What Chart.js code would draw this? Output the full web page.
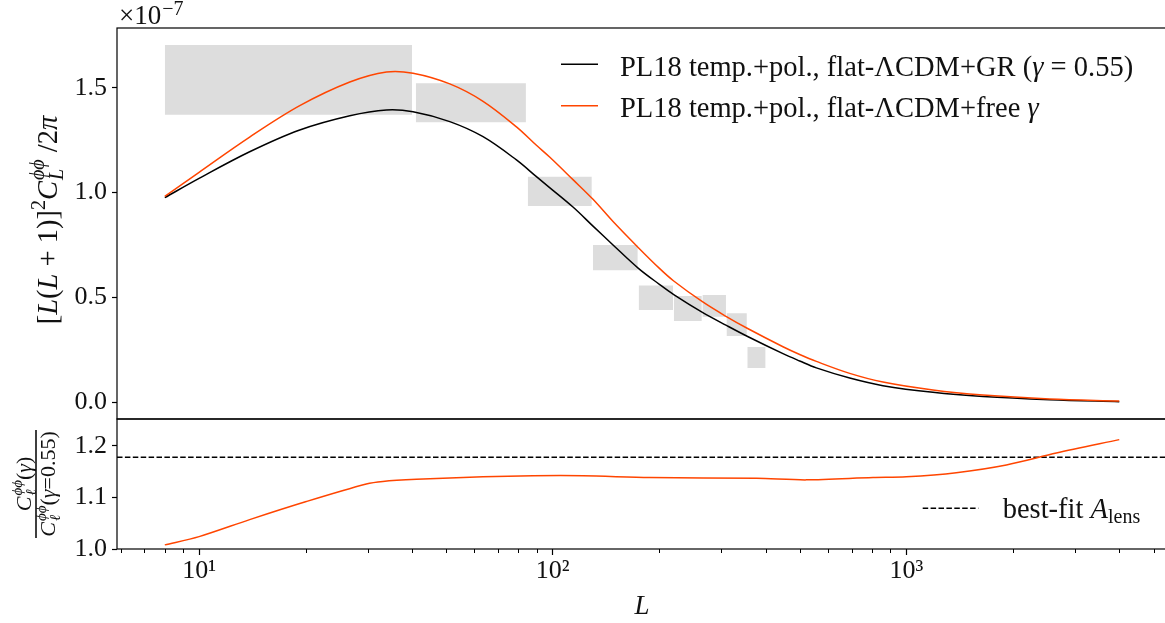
<!DOCTYPE html>
<html>
<head>
<meta charset="utf-8">
<script src="https://cdn.jsdelivr.net/npm/chart.js@4.4.0/dist/chart.umd.min.js"></script>
<style>
html, body { margin: 0; padding: 0; background: #fff; overflow: hidden; }
#top { position: absolute; left: 0; top: 0; }
#bottom { position: absolute; left: 0; top: 380px; }
</style>
</head>
<body>
<canvas id="top" width="1168" height="420"></canvas>
<canvas id="bottom" width="1168" height="243"></canvas>
<script>
// x range of both panels (log L)
const xMin = 5.86;
const xMax = 5458;
const xTicks = [10, 100, 1000];

// multipoles where the two model curves were read
const ell = [8, 10, 13.9, 19.26, 26.68, 33.87, 40.27, 51.16, 63.53, 78.97, 89.94, 98, 114.1, 130, 148.1, 174.7, 200.7, 219.9, 265, 309.8, 355.8, 447.8, 499.3, 556.6, 691.6, 858.6, 1189, 1647, 2542, 4000];

// lensing power, GR (gamma = 0.55), units of 1e-7
const clGR = [0.976, 1.068, 1.195, 1.299, 1.367, 1.3945, 1.386, 1.339, 1.267, 1.156, 1.076, 1.024, 0.931, 0.840, 0.750, 0.6385, 0.561, 0.513, 0.428, 0.366, 0.313, 0.231, 0.196, 0.163, 0.1145, 0.0783, 0.0463, 0.0267, 0.0115, 0.0019];

// lensing power, free gamma
const clFree = [0.982, 1.097, 1.265, 1.415, 1.528, 1.576, 1.570, 1.519, 1.436, 1.314, 1.226, 1.170, 1.062, 0.968, 0.862, 0.737, 0.637, 0.578, 0.479, 0.408, 0.351, 0.264, 0.227, 0.194, 0.137, 0.0955, 0.0573, 0.0334, 0.0148, 0.0048];

// PL18 bandpowers (grey boxes)
const binLo = [8, 41, 85, 130, 175, 220, 265, 310, 355];
const binHi = [40, 84, 129, 174, 219, 264, 309, 354, 400];
const bandLo = [1.372, 1.336, 0.936, 0.629, 0.439, 0.387, 0.407, 0.315, 0.162];
const bandHi = [1.705, 1.522, 1.076, 0.750, 0.556, 0.506, 0.511, 0.424, 0.263];

// ratio panel
const ellRatio = [8, 10, 13.9, 20.1, 29.7, 33.1, 41.2, 63.5, 88, 121.8, 188, 377, 521, 805, 1000, 1384, 1918, 2655, 4000];
const ratio = [1.008, 1.024, 1.057, 1.092, 1.126, 1.131, 1.135, 1.140, 1.142, 1.142, 1.1385, 1.137, 1.134, 1.1385, 1.140, 1.148, 1.163, 1.186, 1.212];
const aLens = 1.178;

const yTicksTop = [0, 0.5, 1.0, 1.5];
const yTicksBottom = [1.0, 1.1, 1.2];

const FAMILY = '"Liberation Serif", "DejaVu Serif", serif';
const ORANGE = '#ff4500';
const TEXT = '#111';

const toPoints = (xs, ys) => xs.map((x, i) => ({ x: x, y: ys[i] }));
const font = (size, italic) => (italic ? 'italic ' : '') + size + 'px ' + FAMILY;

function runWidth(ctx, r) {
    if (r.sup !== undefined || r.sub !== undefined) {
        ctx.font = font(r.s, true);
        return Math.max(ctx.measureText(r.sup || '').width, ctx.measureText(r.sub || '').width);
    }
    ctx.font = font(r.s, r.i);
    return ctx.measureText(r.t).width;
}

function runsWidth(ctx, runs) {
    return runs.reduce((w, r) => w + runWidth(ctx, r) + (r.gap || 0), 0);
}

// draws text runs left to right from (x, y) on the alphabetic baseline
function drawRuns(ctx, runs, x, y) {
    ctx.textBaseline = 'alphabetic';
    ctx.textAlign = 'left';
    for (const r of runs) {
        const w = runWidth(ctx, r);
        if (r.sup !== undefined || r.sub !== undefined) {
            ctx.font = font(r.s, true);
            if (r.sup) ctx.fillText(r.sup, x, y + r.up);
            if (r.sub) ctx.fillText(r.sub, x, y + r.down);
        } else {
            ctx.font = font(r.s, r.i);
            ctx.fillText(r.t, x, y + (r.dy || 0));
        }
        x += w + (r.gap || 0);
    }
    return x;
}

const frame = {
    id: 'frame',
    afterDraw(chart) {
        const { ctx, chartArea: a } = chart;
        ctx.save();
        ctx.strokeStyle = '#000';
        ctx.lineWidth = 1.2;
        ctx.strokeRect(a.left, a.top, a.right - a.left, a.bottom - a.top);
        ctx.restore();
    }
};

const minorTicks = {
    id: 'minorTicks',
    afterDraw(chart) {
        const x = chart.scales.x, ctx = chart.ctx, y0 = chart.chartArea.bottom;
        ctx.save();
        ctx.strokeStyle = '#000';
        ctx.lineWidth = 1;
        for (let d = 0; d < 4; d++) {
            for (let k = 2; k < 10; k++) {
                const v = k * Math.pow(10, d);
                if (v < xMin || v > xMax) continue;
                const px = Math.round(x.getPixelForValue(v)) + 0.5;
                ctx.beginPath();
                ctx.moveTo(px, y0);
                ctx.lineTo(px, y0 + 4);
                ctx.stroke();
            }
        }
        ctx.restore();
    }
};

const topText = {
    id: 'topText',
    afterDraw(chart) {
        const ctx = chart.ctx;
        ctx.save();
        ctx.fillStyle = TEXT;

        // offset text
        drawRuns(ctx, [{ t: '×10', s: 27, gap: 1 }, { t: '−7', s: 20, dy: -9 }], 119, 24);

        // y label
        ctx.save();
        ctx.translate(57, 220);
        ctx.rotate(-Math.PI / 2);
        const S = 28.5, s = 20;
        const ylab = [
            { t: '[', s: S }, { t: 'L', s: S, i: true }, { t: '(', s: S }, { t: 'L', s: S, i: true },
            { t: ' + 1)]', s: S }, { t: '2', s: s, dy: -12 },
            { t: 'C', s: S, i: true, gap: 1 }, { sup: 'ϕϕ', sub: 'L', s: s, up: -13, down: 6 },
            { t: ' /2', s: S }, { t: 'π', s: S, i: true }
        ];
        drawRuns(ctx, ylab, -runsWidth(ctx, ylab) / 2, 0);
        ctx.restore();

        // legend
        const rows = [
            { color: '#000', y: 64.3, runs: [{ t: 'PL18 temp.+pol., flat-ΛCDM+GR (', s: 28.5 }, { t: 'γ', s: 28.5, i: true }, { t: ' = 0.55)', s: 28.5 }] },
            { color: ORANGE, y: 105.7, runs: [{ t: 'PL18 temp.+pol., flat-ΛCDM+free ', s: 28.5 }, { t: 'γ', s: 28.5, i: true }] }
        ];
        for (const row of rows) {
            ctx.strokeStyle = row.color;
            ctx.lineWidth = 1.5;
            ctx.beginPath();
            ctx.moveTo(561, row.y);
            ctx.lineTo(598, row.y);
            ctx.stroke();
            drawRuns(ctx, row.runs, 620, row.y + 11.7);
        }
        ctx.restore();
    }
};

const bottomText = {
    id: 'bottomText',
    afterDraw(chart) {
        const ctx = chart.ctx;
        ctx.save();
        ctx.fillStyle = TEXT;

        // fraction label
        ctx.save();
        ctx.translate(36, 104);
        ctx.rotate(-Math.PI / 2);
        const B = 22, s = 15;
        const num = [{ t: 'C', s: B, i: true, gap: 1 }, { sup: 'ϕϕ', sub: 'ℓ', s: s, up: -9, down: 5 }, { t: '(', s: B }, { t: 'γ', s: B, i: true }, { t: ')', s: B }];
        const den = [{ t: 'C', s: B, i: true, gap: 1 }, { sup: 'ϕϕ', sub: 'ℓ', s: s, up: -9, down: 5 }, { t: '(', s: B }, { t: 'γ', s: B, i: true }, { t: '=0.55)', s: B }];
        drawRuns(ctx, num, -runsWidth(ctx, num) / 2, -5);
        drawRuns(ctx, den, -runsWidth(ctx, den) / 2, 19);
        ctx.fillRect(-54, -0.8, 108, 1.6);
        ctx.restore();

        // legend
        ctx.strokeStyle = '#000';
        ctx.lineWidth = 1.5;
        ctx.setLineDash([5.5, 2.4]);
        ctx.beginPath();
        ctx.moveTo(922.7, 128.3);
        ctx.lineTo(978.3, 128.3);
        ctx.stroke();
        ctx.setLineDash([]);
        drawRuns(ctx, [{ t: 'best-fit ', s: 28.5 }, { t: 'A', s: 28.5, i: true }, { t: 'lens', s: 20, dy: 5 }], 1002.7, 138.3);
        ctx.restore();
    }
};

const tickFont = { family: FAMILY, size: 26 };
const sup = { 1: '¹', 2: '²', 3: '³' };

function yAxis(min, max, ticks) {
    return {
        min: min,
        max: max,
        afterBuildTicks: sc => { sc.ticks = ticks.map(v => ({ value: v })); },
        afterFit: sc => { sc.width = 117; sc.paddingTop = 0; sc.paddingBottom = 0; },
        grid: { drawOnChartArea: false, tickLength: 5, tickColor: '#000', tickWidth: 1.2 },
        border: { display: false },
        ticks: { font: tickFont, color: TEXT, padding: 5, callback: v => v.toFixed(1) }
    };
}

const boxSets = binLo.map((lo, i) => ({
    data: [{ x: lo, y: bandHi[i] }, { x: binHi[i], y: bandHi[i] }],
    fill: { value: bandLo[i] },
    backgroundColor: '#dddddd',
    borderWidth: 0,
    pointRadius: 0,
    tension: 0
}));

new Chart(document.getElementById('top'), {
    type: 'line',
    data: {
        datasets: [
            { data: toPoints(ell, clFree), borderColor: ORANGE, borderWidth: 1.5, pointRadius: 0, tension: 0.35, fill: false },
            { data: toPoints(ell, clGR), borderColor: '#000', borderWidth: 1.5, pointRadius: 0, tension: 0.35, fill: false },
            ...boxSets
        ]
    },
    options: {
        responsive: false,
        animation: false,
        layout: { padding: { top: 28, right: 1, bottom: 1, left: 0 } },
        plugins: { legend: { display: false }, tooltip: { enabled: false } },
        scales: {
            x: { type: 'logarithmic', min: xMin, max: xMax, display: false },
            y: yAxis(-0.081, 1.786, yTicksTop)
        }
    },
    plugins: [frame, topText]
});

new Chart(document.getElementById('bottom'), {
    type: 'line',
    data: {
        datasets: [
            { data: toPoints(ellRatio, ratio), borderColor: ORANGE, borderWidth: 1.5, pointRadius: 0, tension: 0.3 },
            { data: [{ x: xMin, y: aLens }, { x: xMax, y: aLens }], borderColor: '#000', borderWidth: 1.5, borderDash: [5.5, 2.4], pointRadius: 0 }
        ]
    },
    options: {
        responsive: false,
        animation: false,
        layout: { padding: { top: 39, right: 1, bottom: 0, left: 0 } },
        plugins: { legend: { display: false }, tooltip: { enabled: false } },
        scales: {
            x: {
                type: 'logarithmic',
                min: xMin,
                max: xMax,
                afterBuildTicks: sc => { sc.ticks = xTicks.map(v => ({ value: v })); },
                afterFit: sc => { sc.height = 74; sc.paddingLeft = 0; sc.paddingRight = 0; },
                grid: { drawOnChartArea: false, tickLength: 6, tickColor: '#000', tickWidth: 1.2 },
                border: { display: false },
                ticks: { font: tickFont, color: TEXT, padding: 1, maxRotation: 0, autoSkip: false, callback: v => '10' + sup[Math.round(Math.log10(v))] },
                title: { display: true, text: 'L', color: TEXT, font: { family: FAMILY, size: 27, style: 'italic' }, padding: { top: 4, bottom: 0 } }
            },
            y: yAxis(1.0, 1.252, yTicksBottom)
        }
    },
    plugins: [frame, minorTicks, bottomText]
});
</script>
</body>
</html>
